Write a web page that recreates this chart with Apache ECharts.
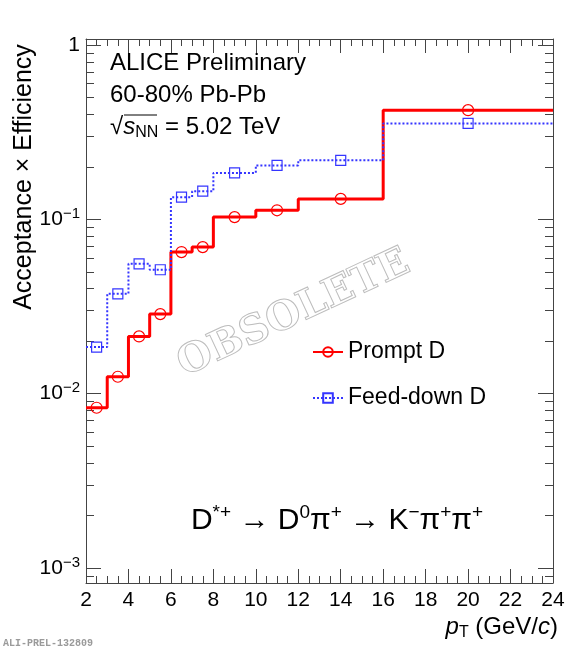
<!DOCTYPE html>
<html>
<head>
<meta charset="utf-8">
<script src="https://cdn.jsdelivr.net/npm/echarts@6/dist/echarts.min.js"></script>
<style>
html, body { margin: 0; padding: 0; background: #fff; }
#chart { width: 576px; height: 650px; }
</style>
</head>
<body>
<div id="chart"></div>
<script>
// pT bins (GeV/c) and acceptance x efficiency per bin
const binEdges = [2, 3, 4, 5, 6, 7, 8, 10, 12, 16, 24]
const promptD = [0.0083, 0.0125, 0.0213, 0.0286, 0.0649, 0.0693, 0.103, 0.1127, 0.131, 0.423]
const feedDownD = [0.0185, 0.0374, 0.0556, 0.0514, 0.134, 0.145, 0.1846, 0.204, 0.218, 0.355]

// y axis is drawn in log10 space
const yDecades = [-3, -2, -1, 0]
const yMin = Math.log10(0.00082)
const yMax = Math.log10(1.083)

const FONT = 'Liberation Sans'
const AXIS = '#444'

let yMinor = []
for (let e = -4; e <= 0; e++) {
    for (let k = 2; k <= 9; k++) {
        let v = Math.log10(k * Math.pow(10, e))
        if (v > yMin && v < yMax) yMinor.push(v)
    }
}

// histogram outline: left edge, centre (with marker), right edge
let histPoints = vals => {
    let pts = []
    vals.forEach((v, i) => {
        let lo = binEdges[i], hi = binEdges[i + 1], y = Math.log10(v)
        pts.push({ value: [lo, y], symbol: 'none' })
        pts.push({ value: [(lo + hi) / 2, y] })
        pts.push({ value: [hi, y], symbol: 'none' })
    })
    return pts
}

let xAxisBase = (pos, labels) => ({
    type: 'value', position: pos, min: 2, max: 24, interval: 2,
    axisLine: { show: true, onZero: false, lineStyle: { color: AXIS, width: 1 } },
    axisTick: { show: true, inside: true, length: 14, lineStyle: { color: AXIS } },
    minorTick: { show: true, splitNumber: 4, length: 7, lineStyle: { color: AXIS } },
    axisLabel: { show: labels, fontSize: 21, color: '#000', margin: 7, fontFamily: FONT },
    splitLine: { show: false }, minorSplitLine: { show: false }
})

let yAxisBase = (pos, ticks, len, line, labels) => ({
    type: 'value', position: pos, min: yMin, max: yMax,
    axisLine: { show: line, onZero: false, lineStyle: { color: AXIS, width: 1 } },
    axisTick: { show: true, inside: true, length: len, customValues: ticks, lineStyle: { color: AXIS } },
    axisLabel: labels ? {
        show: true, customValues: ticks, margin: 6, fontSize: 21, color: '#000', fontFamily: FONT,
        lineHeight: 26,
        formatter: v => Math.round(v) === 0 ? '1' : '10{sup|\u2212' + (-Math.round(v)) + '}',
        rich: { sup: { fontSize: 15, lineHeight: 15, verticalAlign: 'top', fontFamily: FONT, color: '#000' } }
    } : { show: false },
    splitLine: { show: false }
})

let txt = (text, x, y, size, extra) => ({
    type: 'text', x: x, y: y, silent: true,
    style: Object.assign({ text: text, fontSize: size, fontFamily: FONT, fill: '#000',
        textAlign: 'left', textVerticalAlign: 'middle' }, extra || {})
})

let sup = { fontSize: 19, lineHeight: 18, verticalAlign: 'top', fontFamily: FONT }
let big = { fontSize: 30, lineHeight: 36, fontFamily: FONT }

let option = {
    backgroundColor: '#fff',
    animation: false,
    grid: { left: 86, right: 23, top: 39, bottom: 67, containLabel: false, outerBoundsMode: 'none' },
    xAxis: [xAxisBase('bottom', true), xAxisBase('top', false)],
    yAxis: [
        yAxisBase('left', yDecades, 15, true, true),
        yAxisBase('left', yMinor, 8, false, false),
        yAxisBase('right', yDecades, 15, true, false),
        yAxisBase('right', yMinor, 8, false, false)
    ],
    legend: {
        orient: 'vertical', left: 312, top: 340, padding: 0,
        itemWidth: 30, itemHeight: 12, itemGap: 22,
        selectedMode: false,
        textStyle: { fontSize: 23, color: '#000', fontFamily: FONT, lineHeight: 24 },
        data: ['Prompt D', 'Feed-down D']
    },
    series: [
        {
            name: 'Prompt D', type: 'line', data: histPoints(promptD),
            symbol: 'circle', symbolSize: 11, silent: true,
            itemStyle: { color: 'rgba(0,0,0,0)', borderColor: '#ff0000', borderWidth: 1.2 },
            lineStyle: { color: '#ff0000', width: 3 }
        },
        {
            name: 'Feed-down D', type: 'line', data: histPoints(feedDownD),
            symbol: 'rect', symbolSize: 10, silent: true,
            itemStyle: { color: 'rgba(0,0,0,0)', borderColor: '#3535ff', borderWidth: 1.2 },
            lineStyle: { color: '#3535ff', width: 2, type: [2, 2] }
        }
    ],
    graphic: [
        txt('ALICE Preliminary', 110, 63, 24),
        txt('60-80% Pb-Pb', 110, 95, 24),
        txt('{r|\u221a}{i|s}{sub|NN} = 5.02 TeV', 110, 127, 24, {
            rich: {
                r: { fontSize: 24, lineHeight: 28, fontFamily: FONT },
                i: { fontSize: 24, lineHeight: 28, fontStyle: 'italic', fontFamily: FONT },
                sub: { fontSize: 16, lineHeight: 16, verticalAlign: 'bottom', fontFamily: FONT }
            }
        }),
        { type: 'line', silent: true, shape: { x1: 124, y1: 115, x2: 157, y2: 115 }, style: { stroke: '#000', lineWidth: 1 } },
        txt('OBSOLETE', 0, 0, 40, {
            fill: 'none', stroke: '#bdbdbd', lineWidth: 1, fontWeight: 'bold', fontFamily: 'DejaVu Serif',
            textAlign: 'center'
        }),
        txt('{b|D}{s|*+} {b|\u2192 D}{s|0}{b|\u03c0}{s|+} {b|\u2192 K}{s|\u2212}{b|\u03c0}{s|+}{b|\u03c0}{s|+}', 337, 521, 30, {
            textAlign: 'center', rich: { b: big, s: sup }
        }),
        txt('Acceptance \u00d7 Efficiency', 24, 177, 25, { textAlign: 'center' }),
        txt('{i|p}{sub|T} (GeV/{i|c})', 558, 627, 24, {
            textAlign: 'right',
            rich: {
                i: { fontSize: 24, lineHeight: 28, fontStyle: 'italic', fontFamily: FONT },
                sub: { fontSize: 16, lineHeight: 16, verticalAlign: 'bottom', fontFamily: FONT }
            }
        }),
        txt('ALI-PREL-132809', 3, 643, 10, { fill: '#9a9a9a', fontFamily: 'Liberation Mono', fontWeight: 'bold' })
    ]
}

// watermark and rotated title
option.graphic[4].x = 294
option.graphic[4].y = 314
option.graphic[4].rotation = 25 * Math.PI / 180
option.graphic[6].rotation = Math.PI / 2

let chart = echarts.init(document.getElementById('chart'))
chart.setOption(option)
window.addEventListener('resize', () => chart.resize(), false)
</script>
</body>
</html>
